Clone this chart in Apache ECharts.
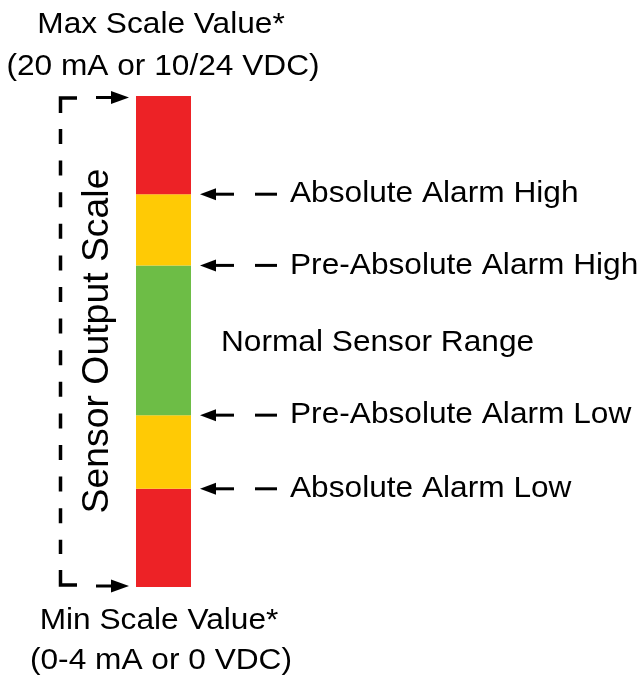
<!DOCTYPE html>
<html>
<head>
<meta charset="utf-8">
<script src="https://cdn.jsdelivr.net/npm/echarts@6/dist/echarts.min.js"></script>
<style>
  html, body { margin: 0; padding: 0; background: #fff; }
  #chart { width: 641px; height: 677px; }
</style>
</head>
<body>
<div id="chart"></div>
<script>
// scale segments, bottom to top (percent of output scale)
const categories = ['Sensor Output'];
const segmentNames = ['Absolute Low', 'Pre-Absolute Low', 'Normal', 'Pre-Absolute High', 'Absolute High'];
const segmentValues = [20, 15, 30.5, 14.5, 20];
const segmentColors = ['#ed2226', '#ffca05', '#6dbd46', '#ffca05', '#ed2226'];
// alarm labels sit on the boundaries between segments (boundary index 1..4)
const alarmLabels = ['Absolute Alarm Low', 'Pre-Absolute Alarm Low', 'Pre-Absolute Alarm High', 'Absolute Alarm High'];
const topLabels = ['Max Scale Value*', '(20 mA or 10/24 VDC)'];
const bottomLabels = ['Min Scale Value*', '(0-4 mA or 0 VDC)'];
const normalLabel = 'Normal Sensor Range';
const axisTitle = 'Sensor Output Scale';

const FONT = 'Liberation Sans, Arial, Helvetica, sans-serif';
const chart = echarts.init(document.getElementById('chart'), null, { renderer: 'canvas' });

const barLeft = 136, barWidth = 55;

chart.setOption({
  animation: false,
  grid: { left: barLeft, width: barWidth, top: 96, height: 491 },
  xAxis: { type: 'category', data: categories, show: false },
  yAxis: { type: 'value', min: 0, max: 100, show: false },
  series: segmentValues.map((v, i) => ({
    name: segmentNames[i],
    type: 'bar',
    stack: 'scale',
    barWidth: '100%',
    data: [v],
    itemStyle: { color: segmentColors[i] },
    silent: true
  }))
});

// boundaries from cumulative sums
const bounds = [0];
segmentValues.forEach((v) => bounds.push(bounds[bounds.length - 1] + v));
const py = (v) => chart.convertToPixel({ yAxisIndex: 0 }, v);
const barRight = barLeft + barWidth;
const yTop = py(bounds[bounds.length - 1]);
const yBot = py(0);

const black = '#000';
const elements = [];

// the original lettering is a bit wider than Liberation Sans
function text(str, x, y, size, align, extra) {
  return Object.assign({
    type: 'text', x: x, y: y, scaleX: 1.055,
    style: { text: str, font: size + 'px ' + FONT, fill: black, align: align, verticalAlign: 'middle' }
  }, extra || {});
}

// right side alarm arrows + labels
alarmLabels.forEach((label, i) => {
  const y = py(bounds[i + 1]);
  const tip = barRight + 9;
  elements.push({ type: 'polygon', shape: { points: [[tip, y], [tip + 16, y - 6], [tip + 16, y + 6]] }, style: { fill: black } });
  elements.push({ type: 'line', shape: { x1: tip + 14, y1: y, x2: tip + 34, y2: y }, style: { stroke: black, lineWidth: 3 } });
  elements.push({ type: 'line', shape: { x1: tip + 55, y1: y, x2: tip + 77, y2: y }, style: { stroke: black, lineWidth: 3 } });
  elements.push(text(label, 290, y, 30, 'left'));
});

// normal range label at the middle of the green segment
elements.push(text(normalLabel, 221, py((bounds[2] + bounds[3]) / 2) + 2, 30, 'left'));

// top / bottom arrows pointing at the bar ends
[yTop + 1.5, yBot - 1].forEach((y) => {
  const tip = barLeft - 7;
  elements.push({ type: 'polygon', shape: { points: [[tip, y], [tip - 18, y - 6.5], [tip - 18, y + 6.5]] }, style: { fill: black } });
  elements.push({ type: 'line', shape: { x1: 96, y1: y, x2: tip - 15, y2: y }, style: { stroke: black, lineWidth: 3 } });
});

// dashed bracket
const bx = 60.5, cTop = yTop + 2, cBot = yBot - 2;
elements.push({ type: 'polyline', shape: { points: [[77, cTop], [bx, cTop], [bx, cTop + 15]] }, style: { stroke: black, lineWidth: 3.5, fill: null } });
elements.push({ type: 'polyline', shape: { points: [[77, cBot], [bx, cBot], [bx, cBot - 15]] }, style: { stroke: black, lineWidth: 3.5, fill: null } });
elements.push({ type: 'line', shape: { x1: bx, y1: cTop + 31, x2: bx, y2: cBot - 31 }, style: { stroke: black, lineWidth: 3.5, lineDash: [15, 16.6] } });

// vertical axis title
elements.push(text(axisTitle, 98, 341, 37, 'center', { rotation: Math.PI / 2, scaleX: 1.01 }));

// top and bottom captions
elements.push(text(topLabels[0], 161, 25, 30, 'center'));
elements.push(text(topLabels[1], 163, 67, 30, 'center'));
elements.push(text(bottomLabels[0], 159, 621, 30, 'center'));
elements.push(text(bottomLabels[1], 161, 661, 30, 'center'));

chart.setOption({ graphic: { elements: elements } });
</script>
</body>
</html>
